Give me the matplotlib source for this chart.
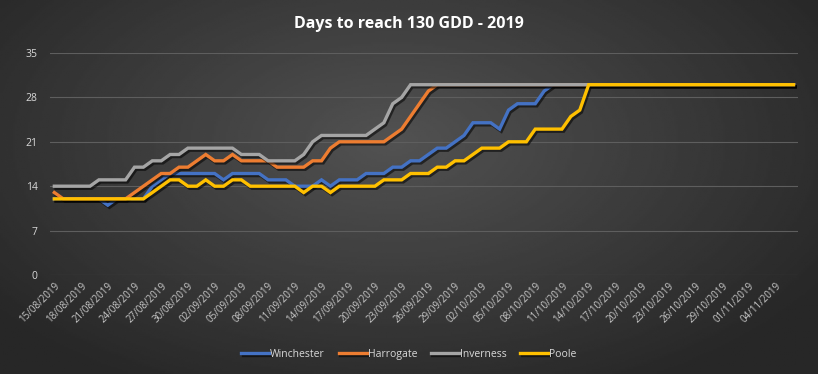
import matplotlib
matplotlib.use('Agg')
import matplotlib.pyplot as plt
import matplotlib.patheffects as pe
import numpy as np
import pandas as pd

# Days needed to reach 130 GDD, one value per start date
dates = pd.date_range('2019-08-15', periods=84, freq='D')

winchester = [12, 12, 12, 12, 12, 12, 11, 12, 12, 12, 12, 14,
              15, 16, 16, 16, 16, 16, 16, 15, 16, 16, 16, 16,
              15, 15, 15, 14, 14, 14, 15, 14, 15, 15, 15, 16,
              16, 16, 17, 17, 18, 18, 19, 20, 20, 21, 22, 24,
              24, 24, 23, 26, 27, 27, 27, 29, 30, 30, 30, 30,
              30, 30, 30, 30, 30, 30, 30, 30, 30, 30, 30, 30,
              30, 30, 30, 30, 30, 30, 30, 30, 30, 30, 30, 30]

harrogate = [13, 12, 12, 12, 12, 12, 12, 12, 12, 13, 14, 15,
             16, 16, 17, 17, 18, 19, 18, 18, 19, 18, 18, 18,
             18, 17, 17, 17, 17, 18, 18, 20, 21, 21, 21, 21,
             21, 21, 22, 23, 25, 27, 29, 30, 30, 30, 30, 30,
             30, 30, 30, 30, 30, 30, 30, 30, 30, 30, 30, 30,
             30, 30, 30, 30, 30, 30, 30, 30, 30, 30, 30, 30,
             30, 30, 30, 30, 30, 30, 30, 30, 30, 30, 30, 30]

inverness = [14, 14, 14, 14, 14, 15, 15, 15, 15, 17, 17, 18,
             18, 19, 19, 20, 20, 20, 20, 20, 20, 19, 19, 19,
             18, 18, 18, 18, 19, 21, 22, 22, 22, 22, 22, 22,
             23, 24, 27, 28, 30, 30, 30, 30, 30, 30, 30, 30,
             30, 30, 30, 30, 30, 30, 30, 30, 30, 30, 30, 30,
             30, 30, 30, 30, 30, 30, 30, 30, 30, 30, 30, 30,
             30, 30, 30, 30, 30, 30, 30, 30, 30, 30, 30, 30]

poole = [12, 12, 12, 12, 12, 12, 12, 12, 12, 12, 12, 13,
         14, 15, 15, 14, 14, 15, 14, 14, 15, 15, 14, 14,
         14, 14, 14, 14, 13, 14, 14, 13, 14, 14, 14, 14,
         14, 15, 15, 15, 16, 16, 16, 17, 17, 18, 18, 19,
         20, 20, 20, 21, 21, 21, 23, 23, 23, 23, 25, 26,
         30, 30, 30, 30, 30, 30, 30, 30, 30, 30, 30, 30,
         30, 30, 30, 30, 30, 30, 30, 30, 30, 30, 30, 30]

series = {
    'Winchester': (winchester, '#4472C4'),
    'Harrogate': (harrogate, '#ED7D31'),
    'Inverness': (inverness, '#A5A5A5'),
    'Poole': (poole, '#FFC000'),
}

plt.rcParams['font.family'] = ['Open Sans', 'DejaVu Sans']

fig = plt.figure(figsize=(8.18, 3.74), dpi=100)

# dark radial gradient background
bg = fig.add_axes([0, 0, 1, 1], zorder=-1)
yy, xx = np.mgrid[0:1:200j, 0:1:400j]
r = np.sqrt(((xx - 0.48) / 0.62) ** 2 + ((yy - 0.62) / 0.75) ** 2)
shade = 0x52 - (0x52 - 0x27) * np.clip(r, 0, 1)
bg.imshow(shade, cmap='gray', vmin=0, vmax=255, aspect='auto', extent=[0, 1, 0, 1], origin='lower')
bg.axis('off')

ax = fig.add_axes([0.061, 0.2647, 0.9145, 0.5936])
ax.set_facecolor('none')

x = np.arange(len(dates))
shadow = [pe.SimpleLineShadow(offset=(1.2, -1.5), shadow_color='black', alpha=0.55), pe.Normal()]
for name, (vals, color) in series.items():
    ax.plot(x, vals, color=color, lw=2.4, label=name, solid_joinstyle='miter',
            path_effects=shadow)

ax.set_xlim(-0.5, len(dates) - 0.5)
ax.set_ylim(0, 35)
ax.set_yticks(range(0, 36, 7))
ax.grid(axis='y', color='#5e5e5e', lw=0.8)
ax.set_axisbelow(True)
for s in ax.spines.values():
    s.set_visible(False)
ax.tick_params(length=0, colors='#d9d9d9', labelsize=7.5)

ticks = x[::3]
ax.set_xticks(ticks)
ax.set_xticklabels([d.strftime('%d/%m/%Y') for d in dates[::3]], rotation=45, ha='right',
                   rotation_mode='anchor', fontsize=7, color='#c8c8c8')
ax.tick_params(axis='x', pad=4)
ax.tick_params(axis='y', pad=9)

fig.text(0.5, 0.937, 'Days to reach 130 GDD - 2019', ha='center', va='center',
         color='white', fontsize=11.5, fontweight='bold')

leg = fig.legend(loc='center', bbox_to_anchor=(0.5, 0.052), ncol=4, frameon=False,
                 fontsize=7.5, handlelength=2.7, columnspacing=1.3, handletextpad=0.1)
for t in leg.get_texts():
    t.set_color('#d9d9d9')

plt.savefig('out.png', dpi=100)
